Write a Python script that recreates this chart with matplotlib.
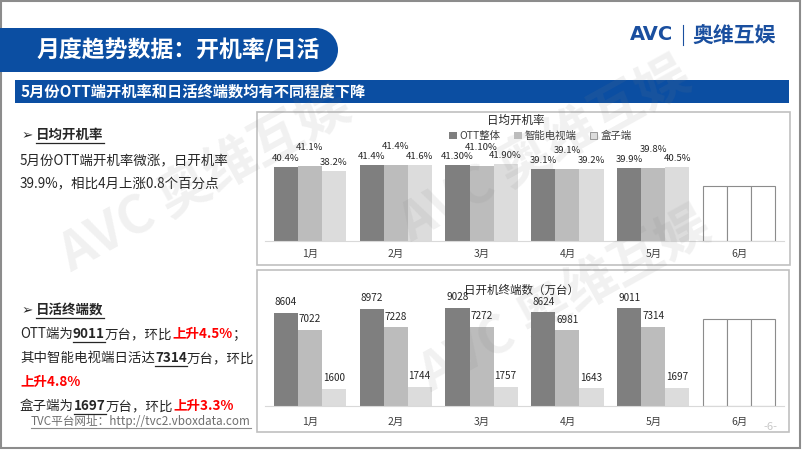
import matplotlib
matplotlib.use('Agg')
import matplotlib.pyplot as plt
import numpy as np
from matplotlib.patches import Rectangle, Circle, Patch

plt.rcParams['font.family'] = ['Noto Sans CJK SC', 'DejaVu Sans']

# ====================== DATA ======================
months = ['1月', '2月', '3月', '4月', '5月', '6月']
series = ['OTT整体', '智能电视端', '盒子端']

rate_ott = [40.4, 41.4, 41.3, 39.1, 39.9]
rate_tv = [41.1, 41.4, 41.1, 39.1, 39.8]
rate_box = [38.2, 41.6, 41.9, 39.2, 40.5]
rate_labels = [['40.4%', '41.1%', '38.2%'],
               ['41.4%', '41.4%', '41.6%'],
               ['41.30%', '41.10%', '41.90%'],
               ['39.1%', '39.1%', '39.2%'],
               ['39.9%', '39.8%', '40.5%']]
rate_june = [30, 30, 30]          # empty placeholder bars

dau_ott = [8604, 8972, 9028, 8624, 9011]
dau_tv = [7022, 7228, 7272, 6981, 7314]
dau_box = [1600, 1744, 1757, 1643, 1697]
dau_june = [8000, 8000, 8000]     # empty placeholder bars

colors = ['#7f7f7f', '#bcbcbc', '#dcdcdc']
BLUE = '#0b4ea2'
W, H = 802, 451

fig = plt.figure(figsize=(W / 100, H / 100), dpi=100)
fig.patch.set_facecolor('white')

# background overlay in pixel coordinates
bg = fig.add_axes([0, 0, 1, 1], zorder=0)
bg.set_xlim(0, W)
bg.set_ylim(H, 0)
bg.axis('off')

# outer frame
bg.add_patch(Rectangle((1, 1), W - 3, H - 4, fill=False, ec='#8c8c8c', lw=1.5))

# title banner
bg.add_patch(Rectangle((0, 28), 316, 44, color=BLUE, lw=0))
bg.add_patch(Circle((316, 50), 22, color=BLUE, lw=0))
bg.text(178, 50, '月度趋势数据：开机率/日活', color='white', fontsize=16.5,
        fontweight='bold', ha='center', va='center')

# subtitle bar
bg.add_patch(Rectangle((15, 80), 774, 23, color=BLUE, lw=0))
bg.text(21, 91.5, '5月份OTT端开机率和日活终端数均有不同程度下降', color='white',
        fontsize=11, fontweight='bold', fontstyle='italic', ha='left', va='center')

# logo
bg.text(652, 35, 'AVC', color='#1a4f9f', fontsize=14, fontweight='heavy',
        family='DejaVu Sans', ha='center', va='center')
bg.plot([683, 683], [25, 45], color='#1a4f9f', lw=0.8)
bg.text(734, 35, '奥维互娱', color='#1a4f9f', fontsize=15, fontweight='bold',
        ha='center', va='center')

# panels
bg.add_patch(Rectangle((257, 112), 533, 153, fill=False, ec='#c0c0c0', lw=1.2))
bg.add_patch(Rectangle((257, 270), 532, 162, fill=False, ec='#c0c0c0', lw=1.2))

# ---------------- left side text ----------------
renderer = fig.canvas.get_renderer()
TXT = '#262626'


def rich(x, y, parts, size=9.7):
    for text, style in parts:
        bold = 'b' in style
        color = '#ff0000' if 'r' in style else TXT
        t = bg.text(x, y, text, fontsize=size, color=color,
                    fontweight='bold' if bold else 'normal', ha='left', va='center')
        bb = t.get_window_extent(renderer)
        if 'u' in style:
            bg.plot([x, x + bb.width], [y + 8, y + 8], color=color, lw=0.9)
        x += bb.width


rich(22, 135, [('➢ ', ''), ('日均开机率', 'bu')])
rich(20, 160, [('5月份OTT端开机率微涨，日开机率', '')])
rich(20, 183, [('39.9%，相比4月上涨0.8个百分点', '')])
rich(22, 310, [('➢ ', ''), ('日活终端数', 'bu')])
rich(20, 334, [('OTT端为', ''), ('9011', 'bu'), ('万台，环比', ''), ('上升4.5%', 'br'), ('；', '')])
rich(20, 358, [('其中智能电视端日活达', ''), ('7314', 'bu'), ('万台，环比', '')])
rich(20, 382, [('上升4.8%', 'br')])
rich(20, 406, [('盒子端为', ''), ('1697', 'bu'), ('万台，环比', ''), ('上升3.3%', 'br')])

t = bg.text(31, 421, 'TVC平台网址：http://tvc2.vboxdata.com', fontsize=8.4,
            color='#6e6e6e', ha='left', va='center')
bb = t.get_window_extent(renderer)
bg.plot([31, 31 + bb.width], [428, 428], color='#8c8c8c', lw=0.8)

bg.text(770, 427, '-6-', fontsize=8, color='#c8c8c8', ha='center', va='center')

# ---------------- charts ----------------
x = np.arange(len(months))
bw = 0.28
left, width = 265 / W, 519 / W


def chart(ax, vals, june, labels, pad_list, lsize):
    for i, v in enumerate(vals):
        bars = ax.bar(x[:5] + (i - 1) * bw, v, bw, color=colors[i], lw=0)
        ax.bar_label(bars, labels=labels[i], padding=pad_list[i], fontsize=lsize, color='#262626')
        ax.bar(x[5] + (i - 1) * bw, june[i], bw, facecolor='white', edgecolor='#8c8c8c', lw=0.8)
    ax.set_xlim(-0.52, 5.52)
    ax.set_xticks(x)
    ax.set_xticklabels(months, fontsize=7.5, color='#404040')
    ax.tick_params(axis='x', length=0, pad=6)
    ax.set_yticks([])
    for s in ['top', 'right', 'left']:
        ax.spines[s].set_visible(False)
    ax.spines['bottom'].set_color('#d9d9d9')
    ax.patch.set_alpha(0)


ax1 = fig.add_axes([left, (H - 241) / H, width, 110 / H], zorder=2)
lab1 = [[r[i] for r in rate_labels] for i in range(3)]
chart(ax1, [rate_ott, rate_tv, rate_box], rate_june, lab1, [3, 10, 3], 6.9)
ax1.set_ylim(0, 60)

ax2 = fig.add_axes([left, (H - 406) / H, width, 119.5 / H], zorder=2)
lab2 = [[str(v) for v in s] for s in [dau_ott, dau_tv, dau_box]]
chart(ax2, [dau_ott, dau_tv, dau_box], dau_june, lab2, [4, 4, 4], 7.2)
ax2.set_ylim(0, 11000)
ax2.tick_params(axis='x', pad=8)

bg.text(516, 120, '日均开机率', fontsize=8.3, color='#262626', ha='center', va='center')
bg.text(521, 290, '日开机终端数（万台）', fontsize=8.3, color='#262626', ha='center', va='center')

handles = [Patch(facecolor=colors[0], edgecolor='none'),
           Patch(facecolor=colors[1], edgecolor='none'),
           Patch(facecolor=colors[2], edgecolor='#8c8c8c', lw=0.6)]
fig.legend(handles, series, loc='center left', bbox_to_anchor=(440 / W, 1 - 136 / H),
           ncol=3, frameon=False, fontsize=7.5, handlelength=0.7, handleheight=0.7,
           handletextpad=0.3, columnspacing=1.3, labelcolor='#404040')

# ---------------- watermarks ----------------
wm = fig.add_axes([0, 0, 1, 1], zorder=5)
wm.set_xlim(0, W)
wm.set_ylim(H, 0)
wm.axis('off')
wm.patch.set_alpha(0)
for cx, cy in [(205, 180), (545, 150), (565, 300)]:
    wm.text(cx, cy, 'AVC 奥维互娱', fontsize=38, fontweight='bold', color='#808080',
            alpha=0.11, rotation=29, ha='center', va='center', rotation_mode='anchor')

fig.savefig('out.png', dpi=100, facecolor='white')
